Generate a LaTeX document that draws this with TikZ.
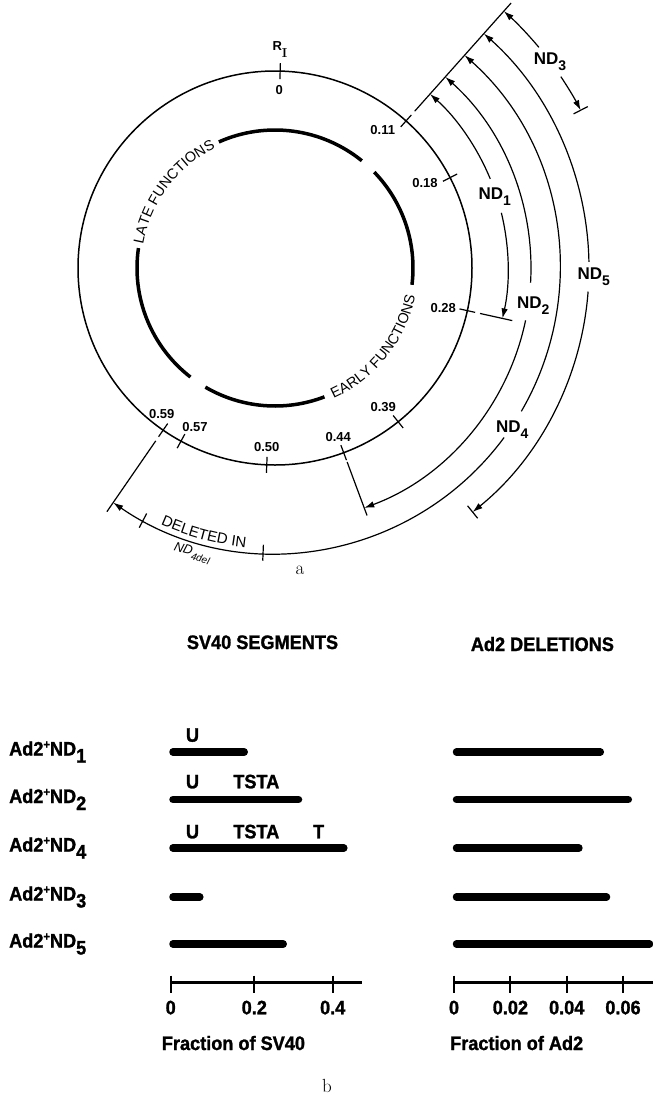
\documentclass[tikz,border=0pt]{standalone}
\usepackage{fontspec}
\setsansfont{Liberation Sans}
\newfontfamily\heavyfont[FakeStretch=0.93, FakeBold=1.3]{Liberation Sans Bold}
\usepackage{tikz}
\usetikzlibrary{arrows.meta,positioning,decorations.text}
\tikzset{
  ring/.style={line width=1.5pt},
  fnarc/.style={line width=3.5pt},
  ndarc/.style={line width=1.2pt},
  tip/.style={-{Latex[length=10pt,width=6.5pt]}},
  pit/.style={{Latex[length=10pt,width=6.5pt]}-},
  mapnum/.style={font=\sffamily\bfseries\fontsize{13}{13}\selectfont, inner sep=0pt},
  ndname/.style={font=\sffamily\bfseries\fontsize{17}{17}\selectfont, inner sep=0pt},
  rowname/.style={font=\heavyfont\fontsize{19.5}{20}\selectfont, anchor=base west, inner sep=0pt},
  seglbl/.style={font=\heavyfont\fontsize{19.5}{20}\selectfont, anchor=base, inner sep=0pt},
  segbar/.style={line width=7.5pt, line cap=round},
  scaleax/.style={line width=2.4pt},
  capt/.style={font=\fontsize{19}{19}\selectfont, anchor=base, inner sep=0pt}
}
\newcommand{\ndsub}[1]{ND\raisebox{-6pt}{\fontsize{14}{14}\selectfont #1}}
\newcommand{\adnd}[1]{Ad2\raisebox{7pt}{\fontsize{12}{12}\selectfont +}ND\raisebox{-7pt}{#1}}
\begin{document}
\begin{tikzpicture}[x=1pt,y=1pt]
\useasboundingbox (0,0) rectangle (653,-1101);

% SV40 map
\begin{scope}[shift={(275,-268)}]
\draw[ring] (0,0) circle[radius=197];
\draw[fnarc] (114:138) arc[start angle=114, end angle=51, radius=138];
\draw[fnarc] (44:138) arc[start angle=44, end angle=-7, radius=138];
\draw[fnarc] (-69:138) arc[start angle=-69, end angle=-120.3, radius=138];
\draw[fnarc] (-127.8:138) arc[start angle=-127.8, end angle=-188.3, radius=138];
\path[decorate, decoration={text along path, text align=center,
  text={|\sffamily\fontsize{14.5}{14.5}\selectfont|LATE FUNCTIONS}}]
  (170:134) arc[start angle=170, end angle=116, radius=134];
\path[decorate, decoration={text along path, text align=center,
  text={|\sffamily\fontsize{14.5}{14.5}\selectfont|EARLY FUNCTIONS}}]
  (-67:143) arc[start angle=-67, end angle=-10, radius=143];

% ticks and positions
\foreach \a in {88.5,48.3,27.3,-12.5,-51.3,-69.6,-92.4,-118.5,-124.6}
  \draw[ndarc] (\a:189) -- (\a:205);
\node[mapnum] (ri) at (5,218) {R\raisebox{-7pt}{\rmfamily\bfseries I}};
\node[mapnum] (n0) at (4.3,178) {0};
\node[mapnum] (n11) at (107.7,138) {0.11};
\node[mapnum] (n18) at (150,84.7) {0.18};
\node[mapnum] (n28) at (168.3,-40.3) {0.28};
\node[mapnum] (n39) at (108.3,-138.7) {0.39};
\node[mapnum] (n44) at (63.3,-168.7) {0.44};
\node[mapnum] (n50) at (-8.3,-178.7) {0.50};
\node[mapnum] (n57) at (-80,-159.3) {0.57};
\node[mapnum] (n59) at (-113.3,-146) {0.59};

% end lines
\draw[ndarc] (48.3:210) -- (48.3:355);
\draw[ndarc] (-12.5:210) -- (-12.5:243);
\draw[ndarc] (-69.6:207) -- (-69.6:264);
\draw[ndarc] (-124.6:210) -- (-124.6:296);

% ND1
\draw[ndarc, pit] (48.3:233) arc[start angle=48.3, end angle=22.5, radius=233];
\draw[ndarc, tip] (13.7:233) arc[start angle=13.7, end angle=-12.5, radius=233];
\node[ndname] (nd1) at (18:231) {\ndsub{1}};
% ND2
\draw[ndarc, pit] (48.3:256) arc[start angle=48.3, end angle=-3.3, radius=256];
\draw[ndarc, tip] (-11.8:256) arc[start angle=-11.8, end angle=-69.6, radius=256];
\node[ndname] (nd2) at (-8.3:261) {\ndsub{2}};
% ND4
\draw[ndarc, pit] (48.3:285) arc[start angle=48.3, end angle=-30.2, radius=285];
\draw[ndarc, tip] (-36.5:285) arc[start angle=-36.5, end angle=-124.6, radius=285];
\node[ndname] (nd4) at (-34.2:287) {\ndsub{4}};
\draw[ndarc] (-117.6:277) -- (-117.6:293);
\draw[ndarc] (-92.4:277) -- (-92.4:293);
\path[decorate, decoration={text along path, text align=center,
  text={|\sffamily\fontsize{15}{15}\selectfont|DELETED IN}}]
  (-115:281) arc[start angle=-115, end angle=-95, radius=281];
\node[font=\sffamily\itshape\fontsize{13}{13}\selectfont, inner sep=0pt, rotate=-16.2] (del)
  at (-106.2:297) {ND\raisebox{-4pt}{\fontsize{10}{10}\selectfont 4del}};
% ND5
\draw[ndarc, pit] (48.3:314) arc[start angle=48.3, end angle=1.1, radius=314];
\draw[ndarc, tip] (-4.3:314) arc[start angle=-4.3, end angle=-51, radius=314];
\draw[ndarc] (-51:306) -- (-51:322);
\node[ndname] (nd5) at (-1.6:319) {\ndsub{5}};
% ND3
\draw[ndarc, pit] (48.3:344) arc[start angle=48.3, end angle=39.9, radius=344];
\draw[ndarc, tip] (33.8:344) arc[start angle=33.8, end angle=27.3, radius=344];
\draw[ndarc] (27.3:336) -- (27.3:352);
\node[ndname] (nd3) at (36.9:344) {\ndsub{3}};
\end{scope}
\node[capt] (capa) at (300,-574) {a};

% SV40 segments and Ad2 deletions
\node[seglbl] (hsv) at (262.5,-649) {SV40 SEGMENTS};
\node[seglbl] (had) at (542.4,-651) {Ad2 DELETIONS};

\node[rowname] (r1) at (9,-755.5) {\adnd{1}};
\node[rowname] (r2) at (9,-803) {\adnd{2}};
\node[rowname] (r4) at (9,-851.5) {\adnd{4}};
\node[rowname] (r3) at (9,-900.5) {\adnd{3}};
\node[rowname] (r5) at (9,-947.5) {\adnd{5}};

\draw[segbar] (173,-752) -- (244.2,-752);
\draw[segbar] (173,-799.5) -- (298.5,-799.5);
\draw[segbar] (173,-848) -- (343.8,-848);
\draw[segbar] (173,-897) -- (199.8,-897);
\draw[segbar] (173,-944) -- (283.2,-944);
\draw[segbar] (456.5,-752) -- (600.3,-752);
\draw[segbar] (456.5,-799.5) -- (628.3,-799.5);
\draw[segbar] (456.5,-848) -- (578.9,-848);
\draw[segbar] (456.5,-897) -- (606.5,-897);
\draw[segbar] (456.5,-944) -- (649.5,-944);

\node[seglbl] (u1) at (192.5,-741.7) {U};
\node[seglbl] (u2) at (192.5,-788.3) {U};
\node[seglbl] (ts2) at (256.3,-788.3) {TSTA};
\node[seglbl] (u4) at (192.5,-838.3) {U};
\node[seglbl] (ts4) at (256.3,-838.3) {TSTA};
\node[seglbl] (t4) at (318.6,-838.3) {T};

% scales
\draw[scaleax] (170.7,-982.3) -- (361.7,-982.3);
\foreach \x in {170.7,254.3,332.7}
  \draw[scaleax, line width=2pt] (\x,-975.5) -- (\x,-992.5);
\draw[scaleax] (454,-982.3) -- (653,-982.3);
\foreach \x in {454,510.4,566.7,623}
  \draw[scaleax, line width=2pt] (\x,-975.5) -- (\x,-992.5);
\node[seglbl] (s0) at (170.7,-1014.3) {0};
\node[seglbl] (s2) at (254.3,-1014.3) {0.2};
\node[seglbl] (s4) at (332.7,-1014.3) {0.4};
\node[seglbl] (a0) at (454,-1014.3) {0};
\node[seglbl] (a2) at (510.4,-1014.3) {0.02};
\node[seglbl] (a4) at (566.7,-1014.3) {0.04};
\node[seglbl] (a6) at (623,-1014.3) {0.06};
\node[seglbl, anchor=base west] (fsv) at (161.7,-1050) {Fraction of SV40};
\node[seglbl, anchor=base west] (fad) at (450,-1050) {Fraction of Ad2};
\node[capt] (capb) at (327,-1092) {b};
\end{tikzpicture}
\end{document}
